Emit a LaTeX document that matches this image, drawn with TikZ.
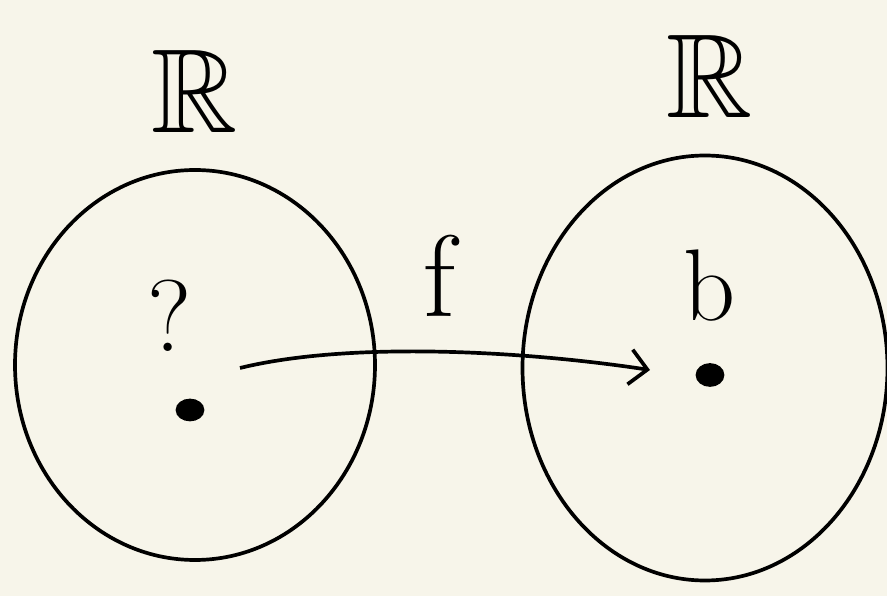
\documentclass[tikz,border=0pt]{standalone}
\usepackage{amsmath,amssymb}
\usepackage{xcolor}
\usepackage{tikz}
\usetikzlibrary{arrows.meta,positioning,calc,shapes.geometric}
\definecolor{paper}{RGB}{247,245,234}

\begin{document}
\begin{tikzpicture}[line width=2.1pt, every node/.style={font=\fontsize{58}{58}\selectfont}]
\fill[paper] (0,0) rectangle (17.74,11.92);
\useasboundingbox (0,0) rectangle (17.74,11.92);
\node[draw, ellipse, minimum width=7.2cm, minimum height=7.8cm, line width=2.1pt] (dom) at (3.9,4.62) {};
\node[draw, ellipse, minimum width=7.3cm, minimum height=8.5cm, line width=2.1pt] (cod) at (14.1,4.56) {};
\node[font=\fontsize{68}{68}\selectfont, inner sep=0pt] (domlabel) at (3.9,10.1) {$\mathbb{R}$};
\node[font=\fontsize{68}{68}\selectfont, inner sep=0pt] (codlabel) at (14.2,10.4) {$\mathbb{R}$};
\node (query) at (3.4,5.6) {?};
\node (bval) at (14.2,6.2) {b};
\node[font=\fontsize{66}{66}\selectfont] (fname) at (8.8,6.4) {f};
\node[draw, fill, ellipse, minimum width=0.5cm, minimum height=0.38cm, inner sep=0pt] (pre) at (3.8,3.72) {};
\node[draw, fill, ellipse, minimum width=0.5cm, minimum height=0.4cm, inner sep=0pt] (img) at (14.2,4.42) {};
\coordinate (start) at (4.8,4.56);
\coordinate (tip) at (13.0,4.52);
\draw[-{Straight Barb[length=0.35cm, width=0.7cm]}] (start) .. controls (7.0,5.1) and (10.5,4.9) .. (tip);
\end{tikzpicture}
\end{document}
